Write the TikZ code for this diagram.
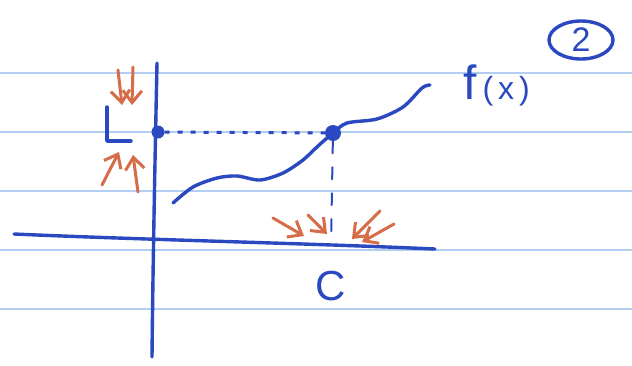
\documentclass[tikz,border=0pt]{standalone}
\usepackage{fontspec}
\setmainfont{Liberation Sans}
\usetikzlibrary{arrows.meta}
\definecolor{ink}{RGB}{42,72,192}
\definecolor{paperrule}{RGB}{178,206,240}
\definecolor{marker}{RGB}{214,108,72}
\begin{document}
\begin{tikzpicture}[x=1pt,y=-1pt,
  inkline/.style={ink,line width=3.4pt,line cap=round,line join=round},
  thinink/.style={ink,line width=2pt,line cap=round},
  oarrow/.style={marker,line width=3pt,line cap=round,line join=round,
    -{Straight Barb[length=12pt,width=19pt]}},
  dotnode/.style={circle,fill=ink,inner sep=0pt,minimum size=#1},
  handtext/.style={ink,inner sep=0pt}]
\useasboundingbox (0,0) rectangle (632,365);
\fill[white] (0,0) rectangle (632,365);
% ruled paper
\foreach \y in {73,132,191,250,309}
  \draw[paperrule,line width=1.6pt] (0,\y) -- (632,\y);
% axes
\coordinate (xl) at (14,234);
\coordinate (xr) at (435,249);
\coordinate (yt) at (157,63);
\coordinate (yb) at (152,357);
\draw[inkline] (xl) .. controls (150,240) and (300,243) .. (xr);
\draw[inkline] (yt) .. controls (155,160) and (153,260) .. (yb);
% points
\node[dotnode=13pt] (Y) at (158,132) {};
\node[dotnode=16pt] (P) at (333,133) {};
\coordinate (C0) at (331,245);
% curve
\draw[inkline] plot[smooth] coordinates {(173,203) (193,187) (217,178) (237,176)
  (260,180) (283,173) (303,160) (318,146) (333,133) (347,123) (377,119)
  (403,107) (422,88) (430,85)};
% dotted and dashed guides
\draw[ink,line width=3pt,dash pattern=on 5pt off 8pt] (Y) -- (P);
\draw[thinink,dash pattern=on 12pt off 14pt] (P) -- (C0);
% L bracket
\coordinate (L1) at (107,107);
\coordinate (L2) at (107,141);
\coordinate (L3) at (131,141);
\draw[inkline] (L1) -- (L2) -- (L3);
% labels
\node[handtext,anchor=base west] (fx) at (463,99)
  {{\fontsize{48}{48}\selectfont f}\hspace{6pt}{\fontsize{32}{32}\selectfont (\hspace{5pt}x\hspace{5pt})}};
\node[handtext,font=\fontsize{42}{42}\selectfont] (C) at (331,286) {C};
\node[handtext,font=\fontsize{34}{34}\selectfont] (two) at (581,40) {2};
\draw[inkline] (two) ellipse [x radius=32pt,y radius=19pt];
% orange arrows
\coordinate (a1s) at (118,70);  \coordinate (a1e) at (122,105);
\coordinate (a2s) at (133,67);  \coordinate (a2e) at (132,105);
\coordinate (b1s) at (102,185); \coordinate (b1e) at (119,152);
\coordinate (b2s) at (138,192); \coordinate (b2e) at (133,155);
\coordinate (c1s) at (273,218); \coordinate (c1e) at (304,236);
\coordinate (c2s) at (308,215); \coordinate (c2e) at (327,234);
\coordinate (d1s) at (380,211); \coordinate (d1e) at (352,239);
\coordinate (d2s) at (394,224); \coordinate (d2e) at (362,242);
\foreach \s/\e in {a1s/a1e,a2s/a2e,b1s/b1e,b2s/b2e,c1s/c1e,c2s/c2e,d1s/d1e,d2s/d2e}
  \draw[oarrow] (\s) -- (\e);
\end{tikzpicture}
\end{document}
